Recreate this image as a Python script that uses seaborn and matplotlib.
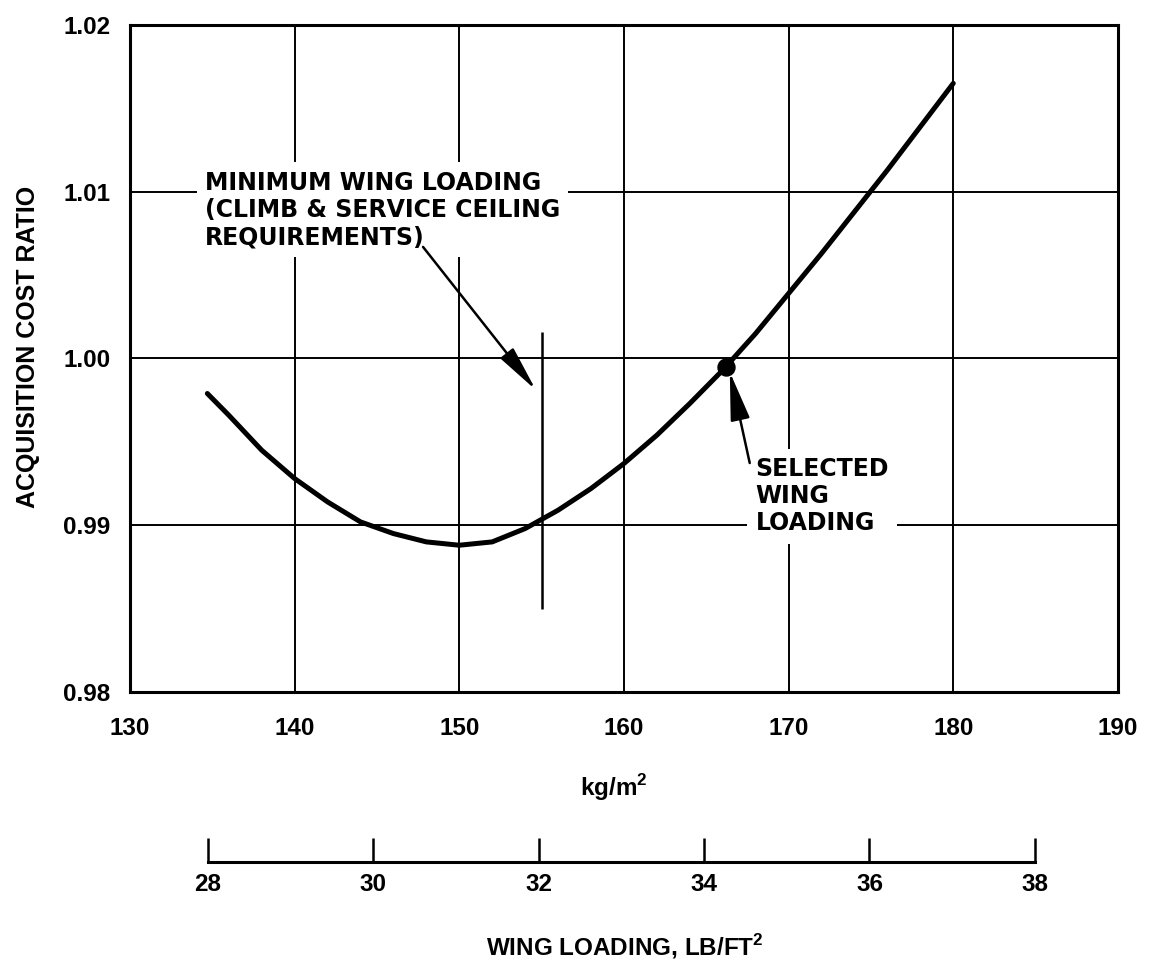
import matplotlib
matplotlib.use("Agg")
import matplotlib.pyplot as plt
import seaborn as sns

# Wing loading (kg/m^2) and acquisition cost ratio along the trade curve
wing_loading = [134.7, 136, 138, 140, 142, 144, 146, 148, 150, 152, 154, 156,
                158, 160, 162, 164, 166, 168, 170, 172, 174, 176, 178, 180]
cost_ratio = [0.9979, 0.9966, 0.9945, 0.9928, 0.9914, 0.9902, 0.9895, 0.9890,
              0.9888, 0.9890, 0.9898, 0.9909, 0.9922, 0.9937, 0.9954, 0.9973,
              0.9993, 1.0015, 1.0039, 1.0063, 1.0088, 1.0113, 1.0139, 1.0165]

# Selected design point
selected_x = [166.2]
selected_y = [0.9995]

# Minimum wing loading constraint line
min_wl = [155]
min_line_lo = [0.985]
min_line_hi = [1.0016]

# Axis ticks
x_ticks = [130, 140, 150, 160, 170, 180, 190]
y_ticks = [0.98, 0.99, 1.00, 1.01, 1.02]
y_tick_labels = ["0.98", "0.99", "1.00", "1.01", "1.02"]
lb_ticks = [28, 30, 32, 34, 36, 38]

sns.set_style("white")
plt.rcParams["font.family"] = ["Liberation Sans", "DejaVu Sans"]
plt.rcParams["font.weight"] = "bold"
plt.rcParams["text.color"] = "black"
plt.rcParams["axes.labelcolor"] = "black"
plt.rcParams["xtick.color"] = "black"
plt.rcParams["ytick.color"] = "black"
plt.rcParams["lines.solid_joinstyle"] = "round"

fig = plt.figure(figsize=(11.5, 9.69), dpi=100)
ax = fig.add_axes([0.1130, 0.2859, 0.8591, 0.6883])

sns.lineplot(x=wing_loading, y=cost_ratio, ax=ax, color="black",
             linewidth=3.6, zorder=3)
sns.scatterplot(x=selected_x, y=selected_y, ax=ax, color="black", s=150,
                edgecolor="black", zorder=5)
ax.vlines(min_wl, min_line_lo, min_line_hi, color="black", linewidth=1.8,
          zorder=3)

ax.set_xlim(130, 190)
ax.set_ylim(0.98, 1.02)
ax.set_xticks(x_ticks)
ax.set_xticklabels([str(t) for t in x_ticks])
ax.set_yticks(y_ticks)
ax.set_yticklabels(y_tick_labels)
ax.tick_params(axis="x", length=0, pad=18, labelsize=17.5, labelcolor="black")
ax.tick_params(axis="y", length=0, pad=14, labelsize=17.5, labelcolor="black")
for lab in ax.get_xticklabels() + ax.get_yticklabels():
    lab.set_fontweight("bold")

ax.grid(True, color="black", linewidth=1.4)
ax.set_axisbelow(True)
for sp in ax.spines.values():
    sp.set_visible(True)
    sp.set_color("black")
    sp.set_linewidth(2.2)

annot_font = dict(family=["DejaVu Sans"], fontsize=17, fontweight="bold",
                  color="black")
box = dict(boxstyle="square,pad=0.35", facecolor="white", edgecolor="none")

ax.text(134.55, 1.00891,
        "MINIMUM WING LOADING\n(CLIMB & SERVICE CEILING\nREQUIREMENTS)",
        ha="left", va="center", linespacing=1.17, bbox=box, zorder=4,
        **annot_font)
ax.annotate("", xy=(154.65, 0.99811), xytext=(147.8, 1.00669),
            arrowprops=dict(arrowstyle="-|>,head_length=1.4,head_width=0.25",
                            mutation_scale=20, color="black", lw=1.8,
                            shrinkA=0, shrinkB=0), zorder=4)

ax.text(168.0, 0.99175, "SELECTED\nWING\nLOADING",
        ha="left", va="center", linespacing=1.17, bbox=box, zorder=4,
        **annot_font)
ax.annotate("", xy=(166.43, 0.99919), xytext=(167.64, 0.99373),
            arrowprops=dict(arrowstyle="-|>,head_length=1.5,head_width=0.3",
                            mutation_scale=20, color="black", lw=1.8,
                            shrinkA=0, shrinkB=0), zorder=4)

# Secondary scale in lb/ft^2 drawn as a bracket below the plot
ax2 = fig.add_axes([0.1130, 0.1104, 0.8591, 0.01])
ax2.patch.set_visible(False)
ax2.set_xlim(27.057, 39.004)
ax2.set_ylim(0, 1)
ax2.set_yticks([])
ax2.set_xticks(lb_ticks)
ax2.set_xticklabels([str(t) for t in lb_ticks])
for name in ["top", "left", "right"]:
    ax2.spines[name].set_visible(False)
ax2.spines["bottom"].set_bounds(28, 38)
ax2.spines["bottom"].set_linewidth(2.2)
ax2.spines["bottom"].set_color("black")
ax2.tick_params(axis="x", direction="in", length=17, width=1.8,
                color="black", labelcolor="black", pad=8, labelsize=17.5,
                bottom=True)
for lab in ax2.get_xticklabels():
    lab.set_fontweight("bold")

fig.text(0.534, 0.187, r"kg/m$^{\mathregular{2}}$", ha="center", va="center",
         fontsize=17.5, fontweight="bold", color="black")
fig.text(0.543, 0.0227, r"WING LOADING, LB/FT$^{\mathregular{2}}$",
         ha="center", va="center", fontsize=17.5, fontweight="bold",
         color="black")
fig.text(0.0243, 0.642, "ACQUISITION COST RATIO", rotation=90,
         ha="center", va="center", fontsize=18, fontweight="bold",
         color="black")

fig.savefig("out.png", dpi=100, facecolor="white")
